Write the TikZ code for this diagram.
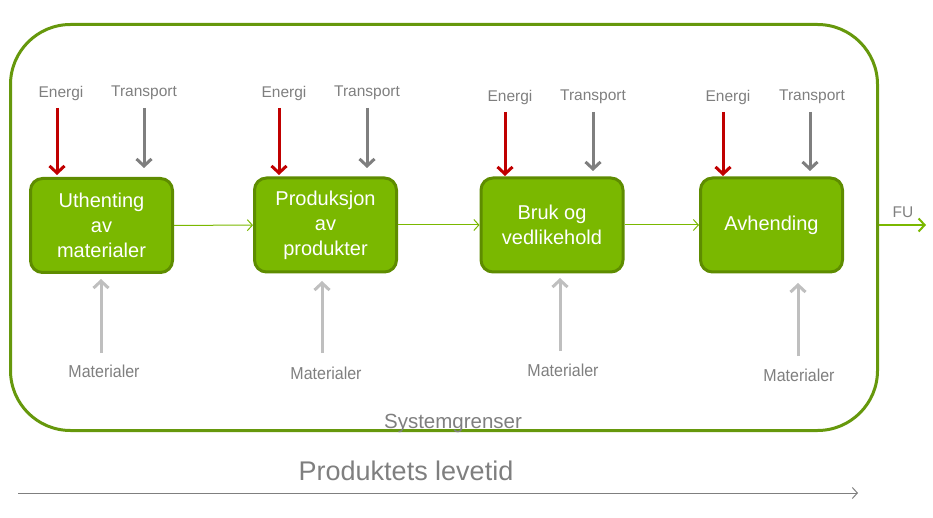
\documentclass[tikz,border=0pt]{standalone}
\usepackage{fontspec}
\setmainfont{Liberation Sans}
\usetikzlibrary{arrows.meta}
\definecolor{boxfill}{HTML}{7AB800}
\definecolor{boxline}{HTML}{5E8C00}
\definecolor{frameline}{HTML}{66980C}
\definecolor{energyred}{HTML}{C00000}
\definecolor{transgray}{HTML}{7F7F7F}
\definecolor{matgray}{HTML}{BFBFBF}
\definecolor{labelgray}{HTML}{7F7F7F}
\begin{document}
\begin{tikzpicture}[x=1pt,y=-1pt,
  stage/.style={draw=boxline, line width=3pt, fill=boxfill, rounded corners=12pt,
    minimum width=142pt, minimum height=94pt, text=white, inner sep=0pt,
    font=\fontsize{20}{25}\selectfont, align=center},
  framebox/.style={draw=frameline, line width=3pt, rounded corners=60pt,
    minimum width=867pt, minimum height=406pt, inner sep=0pt},
  lbl/.style={text=labelgray, font=\fontsize{15.5}{18}\selectfont, inner sep=0pt},
  matlbl/.style={text=labelgray, font=\fontsize{16}{18}\selectfont, inner sep=0pt, yscale=1.08},
  flow/.style={draw=boxfill, line width=1pt, -{Straight Barb[length=5pt,width=11pt]}},
  energy/.style={draw=energyred, line width=3pt, -{Straight Barb[length=7pt,width=15pt]}},
  transport/.style={draw=transgray, line width=3pt, -{Straight Barb[length=7pt,width=15pt]}},
  material/.style={draw=matgray, line width=3pt, -{Straight Barb[length=7pt,width=15pt]}},
  life/.style={draw=transgray, line width=1pt, -{Straight Barb[length=5pt,width=11pt]}},
  fuarrow/.style={draw=boxfill, line width=2pt, -{Straight Barb[length=6pt,width=13pt]}}
]
\useasboundingbox (0,0) rectangle (933,518);

% system boundary
\node[framebox] (frame) at (444,227.5) {};
\node[text=labelgray, font=\fontsize{20.5}{22}\selectfont, inner sep=0pt] (sys) at (453,423) {Systemgrenser};

% stages
\node[stage] (s1) at (101.5,225.5) {Uthenting\\av\\materialer};
\node[stage] (s2) at (325.5,225) {Produksjon\\av\\produkter};
\node[stage] (s3) at (552,225) {Bruk og\\vedlikehold};
\node[stage] (s4) at (771.5,225) {Avhending};

% flows between stages
\draw[flow] (s1) -- (s2);
\draw[flow] (s2) -- (s3);
\draw[flow] (s3) -- (s4);

% FU output
\node[lbl] (fu) at (903,212) {FU};
\coordinate (fuend) at (926,225);
\draw[fuarrow] (s4 -| frame.east) -- (fuend);

% energy and transport inputs
\node[lbl] (e1) at (61,93) {Energi};
\node[lbl] (t1) at (144,93) {Transport};
\node[lbl] (e2) at (284,93) {Energi};
\node[lbl] (t2) at (367,93) {Transport};
\node[lbl] (e3) at (510,97) {Energi};
\node[lbl] (t3) at (593,97) {Transport};
\node[lbl] (e4) at (728,97) {Energi};
\node[lbl] (t4) at (812,97) {Transport};

\coordinate (e1a) at (57,108);  \coordinate (e1b) at (57,175);
\coordinate (t1a) at (144,108); \coordinate (t1b) at (144,168);
\coordinate (e2a) at (279,108); \coordinate (e2b) at (279,175);
\coordinate (t2a) at (367,108); \coordinate (t2b) at (367,168);
\coordinate (e3a) at (505,112); \coordinate (e3b) at (505,176);
\coordinate (t3a) at (593,112); \coordinate (t3b) at (593,171);
\coordinate (e4a) at (723,112); \coordinate (e4b) at (723,176);
\coordinate (t4a) at (810,112); \coordinate (t4b) at (810,171);

\draw[energy] (e1a) -- (e1b);
\draw[transport] (t1a) -- (t1b);
\draw[energy] (e2a) -- (e2b);
\draw[transport] (t2a) -- (t2b);
\draw[energy] (e3a) -- (e3b);
\draw[transport] (t3a) -- (t3b);
\draw[energy] (e4a) -- (e4b);
\draw[transport] (t4a) -- (t4b);

% material inputs
\node[matlbl] (m1) at (104,371) {Materialer};
\node[matlbl] (m2) at (326,373) {Materialer};
\node[matlbl] (m3) at (563,370) {Materialer};
\node[matlbl] (m4) at (799,375) {Materialer};

\coordinate (m1a) at (101,353); \coordinate (m1b) at (101,279);
\coordinate (m2a) at (322,353); \coordinate (m2b) at (322,281);
\coordinate (m3a) at (560,351); \coordinate (m3b) at (560,278);
\coordinate (m4a) at (798,356); \coordinate (m4b) at (798,283);

\draw[material] (m1a) -- (m1b);
\draw[material] (m2a) -- (m2b);
\draw[material] (m3a) -- (m3b);
\draw[material] (m4a) -- (m4b);

% product lifetime
\node[text=transgray, font=\fontsize{27}{30}\selectfont, inner sep=0pt] (life) at (406,471) {Produktets levetid};
\coordinate (lifea) at (18,493);
\coordinate (lifeb) at (858,493);
\draw[life] (lifea) -- (lifeb);
\end{tikzpicture}
\end{document}
